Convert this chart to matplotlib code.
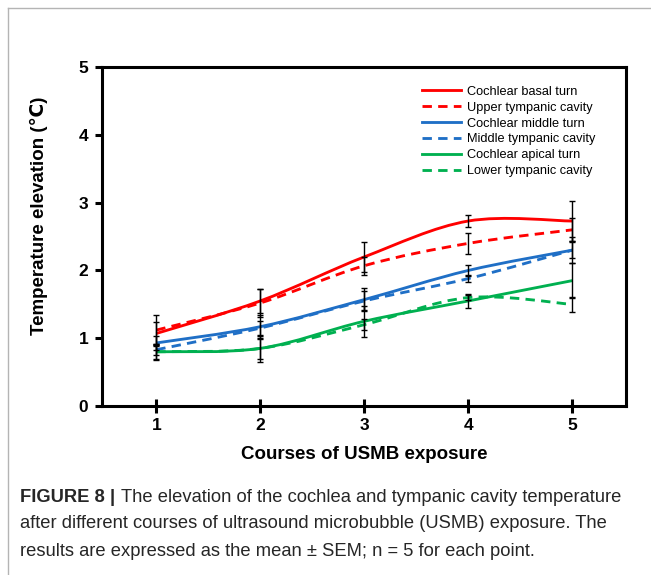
import matplotlib
matplotlib.use("Agg")
import matplotlib.pyplot as plt
import numpy as np
from matplotlib.path import Path
from matplotlib.patches import PathPatch
from matplotlib.lines import Line2D

plt.rcParams['font.family'] = ['Liberation Sans', 'DejaVu Sans']

# data
courses = [1, 2, 3, 4, 5]
basal_turn = [1.07, 1.55, 2.20, 2.73, 2.73]
upper_cavity = [1.12, 1.52, 2.07, 2.40, 2.60]
middle_turn = [0.93, 1.17, 1.57, 2.00, 2.30]
middle_cavity = [0.83, 1.15, 1.55, 1.88, 2.30]
apical_turn = [0.80, 0.85, 1.25, 1.55, 1.85]
lower_cavity = [0.80, 0.85, 1.20, 1.60, 1.50]

basal_sem = [0.17, 0.18, 0.22, 0.09, 0.29]
upper_sem = [0.23, 0.20, 0.13, 0.15, 0.17]
middle_sem = [0.10, 0.18, 0.17, 0.08, 0.19]
middle_cav_sem = [0.08, 0.11, 0.14, 0.05, 0.12]
apical_sem = [0.12, 0.20, 0.23, 0.10, 0.26]
lower_sem = [0.10, 0.15, 0.08, 0.04, 0.11]

labels = ["Cochlear basal turn", "Upper tympanic cavity", "Cochlear middle turn",
          "Middle tympanic cavity", "Cochlear apical turn", "Lower tympanic cavity"]
series = [basal_turn, upper_cavity, middle_turn, middle_cavity, apical_turn, lower_cavity]
sems = [basal_sem, upper_sem, middle_sem, middle_cav_sem, apical_sem, lower_sem]
colors = ['#FF0000', '#FF0000', '#1F6FC6', '#1F6FC6', '#00B050', '#00B050']
dashed = [False, True, False, True, False, True]

caption_head = "FIGURE 8 |"
caption_lines = ["The elevation of the cochlea and tympanic cavity temperature",
                 "after different courses of ultrasound microbubble (USMB) exposure. The",
                 "results are expressed as the mean \u00b1 SEM; n = 5 for each point."]


def smooth_path(x, y):
    """Excel style smoothed line: cubic bezier through every point"""
    pts = np.column_stack([x, y]).astype(float)
    ext = np.vstack([pts[0], pts, pts[-1]])
    verts = [pts[0]]
    codes = [Path.MOVETO]
    for i in range(1, len(ext) - 2):
        p0, p1, p2, p3 = ext[i - 1], ext[i], ext[i + 1], ext[i + 2]
        verts += [p1 + (p2 - p0) / 6, p2 - (p3 - p1) / 6, p2]
        codes += [Path.CURVE4] * 3
    return Path(verts, codes)


fig = plt.figure(figsize=(6.51, 5.75), dpi=100)
ax = fig.add_axes([0.157, 0.294, 0.805, 0.589])

handles = []
for y, c, d, lab in zip(series, colors, dashed, labels):
    ls = (0, (3.3, 2.2)) if d else '-'
    patch = PathPatch(smooth_path(courses, y), fill=False, edgecolor=c,
                      linewidth=2.05, linestyle=ls, capstyle='butt', zorder=2)
    ax.add_patch(patch)
    handles.append(Line2D([], [], color=c, linewidth=2.05, linestyle=ls, label=lab))

for y, e in zip(series, sems):
    ax.errorbar(courses, y, yerr=e, fmt='none', ecolor='black',
                elinewidth=1.0, capsize=2.2, capthick=1.0, zorder=3)

ax.set_xlim(0.48, 5.52)
ax.set_ylim(0, 5)
ax.set_xticks(courses)
ax.set_yticks([0, 1, 2, 3, 4, 5])
for s in ax.spines.values():
    s.set_linewidth(2.2)
ax.tick_params(axis='x', direction='inout', length=10, width=2.2, labelsize=12.5, pad=4)
ax.tick_params(axis='y', direction='out', length=5, width=2.2, labelsize=12.5, pad=5)
for t in ax.get_xticklabels() + ax.get_yticklabels():
    t.set_fontweight('bold')

ax.set_xlabel("Courses of USMB exposure", fontsize=13.5, fontweight='bold', labelpad=9)
ax.set_ylabel("Temperature elevation (℃)", fontsize=13.5, fontweight='bold')
ax.yaxis.set_label_coords(-0.103, 0.56)

ax.legend(handles=handles, loc='upper left', bbox_to_anchor=(0.61, 0.945),
          frameon=False, fontsize=9.2, handlelength=3.05, handletextpad=0.5,
          labelspacing=0.30, borderpad=0, borderaxespad=0)

# page frame lines
fig.add_artist(Line2D([8 / 651, 8 / 651], [0, 1 - 8 / 575], color='#b4b4b4', linewidth=1.0))
fig.add_artist(Line2D([8 / 651, 1], [1 - 8 / 575, 1 - 8 / 575], color='#b4b4b4', linewidth=1.0))

# caption
cap_color = '#262626'
cap_size = 13.2
head = fig.text(20 / 651, 1 - 497 / 575, caption_head, fontsize=cap_size, fontweight='bold',
                color=cap_color, va='center')
fig.canvas.draw()
bb = head.get_window_extent(fig.canvas.get_renderer())
fig.text((bb.x1 + 6) / 651, 1 - 497 / 575, caption_lines[0],
         fontsize=cap_size, color=cap_color, va='center')
fig.text(20 / 651, 1 - 524 / 575, caption_lines[1],
         fontsize=cap_size, color=cap_color, va='center')
fig.text(20 / 651, 1 - 551 / 575, caption_lines[2],
         fontsize=cap_size, color=cap_color, va='center')

fig.savefig("out.png", dpi=100)
